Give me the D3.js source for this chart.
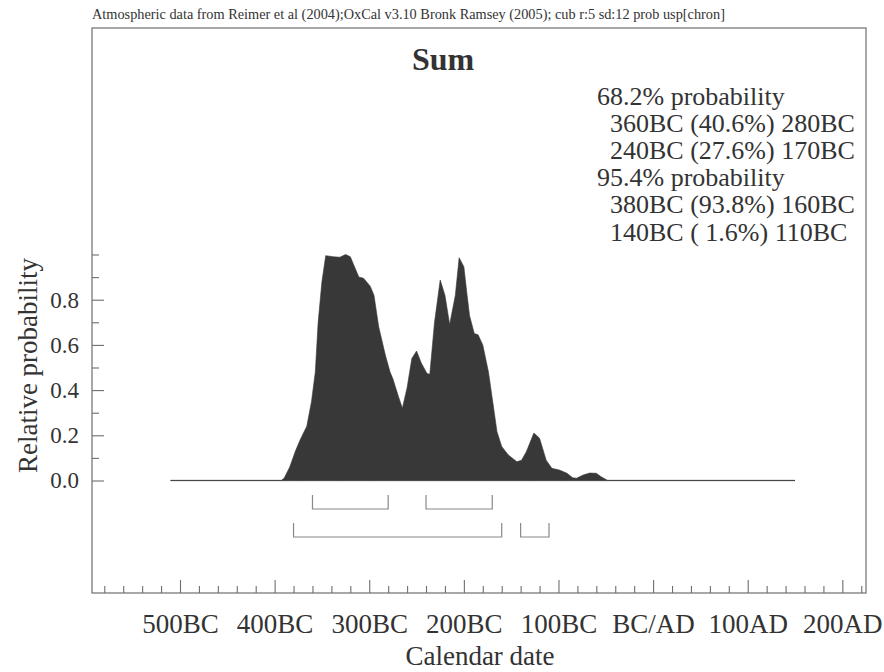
<!DOCTYPE html>
<html>
<head>
<meta charset="utf-8">
<script src="https://cdn.jsdelivr.net/npm/d3@7/dist/d3.min.js"></script>
<style>
  html, body { margin: 0; padding: 0; background: #fff; }
  svg { display: block; }
  text { font-family: "Liberation Serif", "Times New Roman", serif; fill: #333; }
</style>
</head>
<body>
<svg id="chart" width="884" height="672"></svg>
<script>
// ---- data ----
const years = [-510, -393, -390, -384, -378, -373, -366, -361, -357, -354, -350, -346, -338, -331, -325, -320,
  -311, -306, -299, -295, -290, -283, -278, -275, -269, -265, -260, -255, -250, -245, -239, -236, -231, -225,
  -220, -215, -209, -205, -200, -197, -194, -189, -185, -180, -174, -169, -165, -160, -153, -144, -139, -134,
  -126, -120, -113, -107, -99, -91, -85, -81, -74, -67, -60, -55, -48, 150];
const probs = [0, 0, 0.01, 0.06, 0.13, 0.18, 0.24, 0.35, 0.48, 0.70, 0.88, 0.995, 0.99, 0.988, 1.0, 0.99,
  0.90, 0.895, 0.86, 0.82, 0.68, 0.555, 0.48, 0.45, 0.37, 0.32, 0.41, 0.54, 0.573, 0.52, 0.474, 0.47, 0.70, 0.887,
  0.82, 0.69, 0.82, 0.986, 0.946, 0.835, 0.73, 0.65, 0.645, 0.60, 0.48, 0.334, 0.216, 0.15, 0.113, 0.083, 0.09, 0.127,
  0.21, 0.187, 0.09, 0.054, 0.046, 0.032, 0.012, 0.01, 0.024, 0.033, 0.032, 0.017, 0, 0];
const hpd68 = [[-360, -280], [-240, -170]];
const hpd95 = [[-380, -160], [-140, -110]];
const xMajorTicks = [-500, -400, -300, -200, -100, 0, 100, 200];
const xTickLabels = ["500BC", "400BC", "300BC", "200BC", "100BC", "BC/AD", "100AD", "200AD"];
const xMinorTicks = d3.range(-580, 221, 20).filter(v => v % 100 !== 0);
const yMajorTicks = [0, 0.2, 0.4, 0.6, 0.8];
const yTickLabels = ["0.0", "0.2", "0.4", "0.6", "0.8"];
const yMinorTicks = [0.1, 0.3, 0.5, 0.7, 0.9, 1.0];
const caption = "Atmospheric data from Reimer et al (2004);OxCal v3.10 Bronk Ramsey (2005); cub r:5 sd:12 prob usp[chron]";
const title = "Sum";
const probLines = [
  { text: "68.2% probability", indent: false },
  { text: "360BC (40.6%) 280BC", indent: true },
  { text: "240BC (27.6%) 170BC", indent: true },
  { text: "95.4% probability", indent: false },
  { text: "380BC (93.8%) 160BC", indent: true },
  { text: "140BC ( 1.6%) 110BC", indent: true }
];

// ---- layout ----
const frame = { left: 92, top: 28, right: 866, bottom: 593 };
const svg = d3.select("#chart");
const serif = '"Liberation Serif", "Times New Roman", serif';

const x = d3.scaleLinear().domain([-593, 225]).range([frame.left, frame.right]);
const y = d3.scaleLinear().domain([0, 1]).range([480.5, 254.5]);

const axisColor = "#6e6e6e";

// caption
svg.append("text").attr("x", frame.left).attr("y", 19)
  .style("font-size", "14.3px").text(caption);

// frame
svg.append("rect")
  .attr("x", frame.left).attr("y", frame.top)
  .attr("width", frame.right - frame.left).attr("height", frame.bottom - frame.top)
  .attr("fill", "none").attr("stroke", axisColor).attr("stroke-width", 1.2);

// x axis (ticks pointing inward)
const xLabelMap = new Map(xMajorTicks.map((v, i) => [v, xTickLabels[i]]));
const gxMinor = svg.append("g").attr("transform", `translate(0,${frame.bottom})`)
  .call(d3.axisBottom(x).tickValues(xMinorTicks).tickSize(-7).tickFormat(""));
const gxMajor = svg.append("g").attr("transform", `translate(0,${frame.bottom})`)
  .call(d3.axisBottom(x).tickValues(xMajorTicks).tickSize(-13).tickPadding(21)
    .tickFormat(v => xLabelMap.get(v)));
[gxMinor, gxMajor].forEach(g => {
  g.select(".domain").remove();
  g.selectAll(".tick line").attr("stroke", axisColor).attr("stroke-width", 1.1);
});
gxMajor.selectAll(".tick text")
  .style("font-family", serif)
  .style("font-size", "27px").attr("fill", "#333");

// y axis
const yLabelMap = new Map(yMajorTicks.map((v, i) => [v, yTickLabels[i]]));
const gyMinor = svg.append("g").attr("transform", `translate(${frame.left},0)`)
  .call(d3.axisLeft(y).tickValues(yMinorTicks).tickSize(-7).tickFormat(""));
const gyMajor = svg.append("g").attr("transform", `translate(${frame.left},0)`)
  .call(d3.axisLeft(y).tickValues(yMajorTicks).tickSize(-12).tickPadding(13)
    .tickFormat(v => yLabelMap.get(v)));
[gyMinor, gyMajor].forEach(g => {
  g.select(".domain").remove();
  g.selectAll(".tick line").attr("stroke", axisColor).attr("stroke-width", 1.1);
});
gyMajor.selectAll(".tick text")
  .style("font-family", serif)
  .style("font-size", "23px").attr("fill", "#333");

// axis titles
svg.append("text")
  .attr("transform", `translate(37,${(y(0) + y(1)) / 2 - 2}) rotate(-90)`)
  .attr("text-anchor", "middle").style("font-size", "27px").text("Relative probability");
svg.append("text")
  .attr("x", 480).attr("y", 665).attr("text-anchor", "middle")
  .style("font-size", "27px").text("Calendar date");

// title
svg.append("text").attr("x", 443).attr("y", 70).attr("text-anchor", "middle")
  .style("font-size", "32px").style("font-weight", "bold").text(title);

// probability text block
probLines.forEach((d, i) => {
  svg.append("text")
    .attr("x", d.indent ? 610 : 597)
    .attr("y", 105 + i * 27.1)
    .style("font-size", "26px")
    .style("white-space", "pre")
    .attr("xml:space", "preserve")
    .text(d.text);
});

// baseline
svg.append("line")
  .attr("x1", x(years[0])).attr("x2", x(years[years.length - 1]))
  .attr("y1", y(0)).attr("y2", y(0))
  .attr("stroke", "#9a9a9a").attr("stroke-width", 1.5);

// distribution area
const pts = years.map((yr, i) => [yr, probs[i]]);
const area = d3.area()
  .x(d => x(d[0]))
  .y0(y(0))
  .y1(d => y(d[1]))
  .curve(d3.curveLinear);
svg.append("path").datum(pts)
  .attr("d", area)
  .attr("fill", "#383838").attr("stroke", "#383838").attr("stroke-width", 0.6);

// HPD range brackets
const bracket = (r, top, bottom) =>
  `M${x(r[0])},${top}V${bottom}H${x(r[1])}V${top}`;
svg.append("g").selectAll("path").data(hpd68).join("path")
  .attr("d", r => bracket(r, 495, 509))
  .attr("fill", "none").attr("stroke", "#888").attr("stroke-width", 1.2);
svg.append("g").selectAll("path").data(hpd95).join("path")
  .attr("d", r => bracket(r, 523, 537))
  .attr("fill", "none").attr("stroke", "#888").attr("stroke-width", 1.2);
</script>
</body>
</html>
